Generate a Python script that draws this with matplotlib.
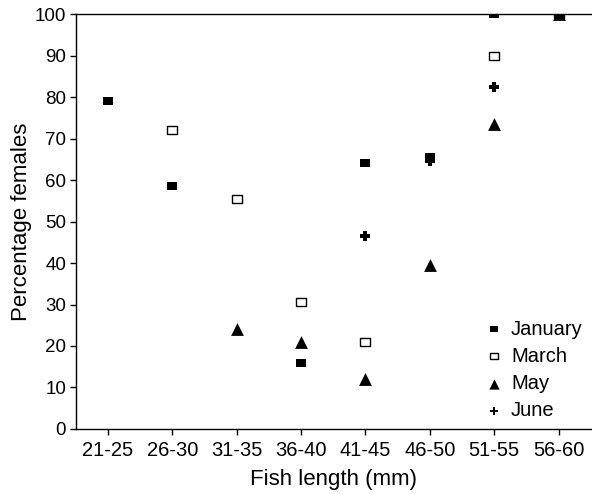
import matplotlib
matplotlib.use("Agg")
import matplotlib.pyplot as plt
import numpy as np

plt.rcParams['font.family'] = ['Liberation Sans', 'DejaVu Sans']

categories = ["21-25", "26-30", "31-35", "36-40", "41-45", "46-50", "51-55", "56-60"]
january = [79, 58.5, None, 16, 64, 65.5, 100, 100]
march = [None, 72, 55.5, 30.5, 21, None, 90, 100]
may = [None, None, 24, 21, 12, 39.5, 73.5, 100]
june = [None, None, None, None, 46.5, 64.5, 82.5, 100]

fig = plt.figure(figsize=(5.92, 4.94), dpi=100)
ax = fig.add_axes([0.128, 0.1316, 0.870, 0.840])

x = np.arange(len(categories))
rect = [(-1.3, -1), (1.3, -1), (1.3, 1), (-1.3, 1), (-1.3, -1)]

def pts(vals):
    xs = [xi for xi, v in zip(x, vals) if v is not None]
    ys = [v for v in vals if v is not None]
    return xs, ys

xs, ys = pts(may)
ax.scatter(xs, ys, marker='^', s=85, c='black', linewidths=0, label='May', zorder=3)
xs, ys = pts(march)
ax.scatter(xs, ys, marker=rect, s=55, facecolors='white', edgecolors='black', linewidths=1.0, label='March', zorder=3)
xs, ys = pts(june)
ax.scatter(xs, ys, marker='P', s=50, c='black', linewidths=0, label='June', zorder=3)
xs, ys = pts(january)
ax.scatter(xs, ys, marker=rect, s=60, c='black', linewidths=0, label='January', zorder=4)

ax.set_xlim(-0.5, 7.5)
ax.set_ylim(0, 100)
ax.set_xticks(x)
ax.set_xticklabels(categories)
ax.set_yticks(np.arange(0, 101, 10))
ax.tick_params(axis='both', length=4, width=1, direction='out', colors='black')
ax.tick_params(axis='x', labelsize=14.5, pad=5)
ax.tick_params(axis='y', labelsize=13.5, pad=3)
ax.spines['right'].set_visible(False)
for s in ['left', 'bottom', 'top']:
    ax.spines[s].set_linewidth(1.0)

ax.set_xlabel("Fish length (mm)", fontsize=16, labelpad=6)
ax.set_ylabel("Percentage females", fontsize=16, labelpad=2)

handles, labels = ax.get_legend_handles_labels()
order = [labels.index(l) for l in ['January', 'March', 'May', 'June']]
leg = ax.legend([handles[i] for i in order], [labels[i] for i in order],
                loc='lower right', bbox_to_anchor=(1.012, -0.012), frameon=False,
                fontsize=14.5, handletextpad=0.35, labelspacing=0.4, markerscale=0.8,
                handlelength=1.0, borderaxespad=0.3)

fig.savefig("out.png", dpi=100)
